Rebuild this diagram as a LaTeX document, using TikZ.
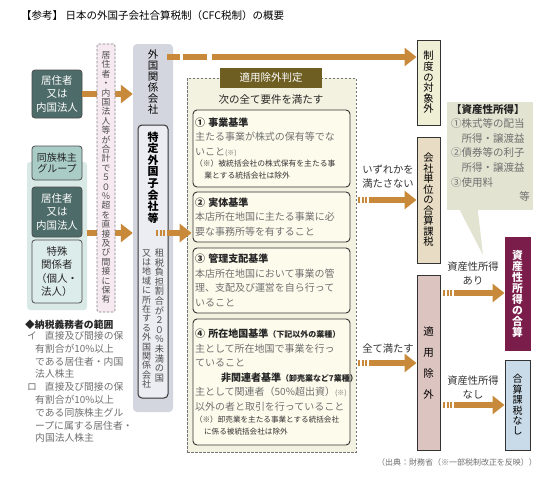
\documentclass[tikz,border=0pt]{standalone}
\usepackage{fontspec}
\setmainfont{Noto Sans CJK JP}
\usetikzlibrary{arrows.meta}

\definecolor{fatorange}{HTML}{C8893A}
\definecolor{tealdark}{HTML}{4D6B69}
\definecolor{tealpale}{HTML}{D8E9E6}
\definecolor{tealmid}{HTML}{A9CCC7}
\definecolor{teallight}{HTML}{DCECEA}
\definecolor{pinkpale}{HTML}{F6EAF0}
\definecolor{colgray}{HTML}{D3D6DE}
\definecolor{lavwhite}{HTML}{ECECF3}
\definecolor{creampale}{HTML}{F3F2E0}
\definecolor{olivedark}{HTML}{6E5E22}
\definecolor{critfill}{HTML}{FDFBEC}
\definecolor{outfill}{HTML}{EFEFD6}
\definecolor{tanfill}{HTML}{E9DCC4}
\definecolor{rosefill}{HTML}{DCC4C0}
\definecolor{plum}{HTML}{7A1D4B}
\definecolor{bluepale}{HTML}{C9DBE9}
\definecolor{notegray}{HTML}{E3E3D1}
\definecolor{txtgray}{HTML}{707070}

% vertical (tate) text: one character per line
\makeatletter
\def\tate#1{\tate@a#1\@nil}
\def\tate@a#1#2\@nil{#1\ifx\relax#2\relax\else\\\tate@a#2\@nil\fi}
\makeatother

\tikzset{
  fat/.style={draw=fatorange, line width=6pt, -{Triangle[width=18pt,length=12pt]}},
  stripes/.style={dash pattern=on 2pt off 1.5pt on 2pt off 1.5pt on 2pt off 2pt on 600pt},
  person/.style={draw=black!70, line width=0.8pt, fill=tealdark, text=white, rounded corners=3pt,
    minimum width=50pt, inner sep=0pt, align=center, font=\fontsize{10.5}{13.5}\selectfont},
  vtext/.style={inner sep=0pt, align=center},
  crit/.style={draw=black!80, line width=0.9pt, fill=critfill, rounded corners=4pt, text width=153pt,
    inner sep=2pt, align=left, text=txtgray, font=\fontsize{10}{14.5}\selectfont},
  resbox/.style={draw=black!80, line width=1pt, minimum width=23pt, inner sep=0pt, align=center},
  lbl/.style={inner sep=0pt, align=center, text=black!80, font=\fontsize{10.3}{14}\selectfont}
}

\begin{document}
\begin{tikzpicture}[x=1pt,y=-1pt]
  \useasboundingbox[fill=white] (0,0) rectangle (550,482);

  % title
  \node[anchor=west, inner sep=0pt, font=\fontsize{10.5}{12}\selectfont] (title) at (21,16)
    {【参考】\ 日本の外国子会社合算税制（CFC税制）の概要};

  % taxpayers on the left
  \node[fill=tealpale, rounded corners=3pt, minimum width=60pt, minimum height=148pt, inner sep=0pt] (grp) at (57,236) {};
  \node[person, minimum height=48pt] (res1) at (57,94) {居住者\\又は\\内国法人};
  \node[person, fill=tealmid, text=black!85, minimum height=34pt, font=\fontsize{10}{11.5}\selectfont] (dozoku) at (57,163) {同族株主\\グループ};
  \node[person, minimum height=50pt] (res2) at (57,212) {居住者\\又は\\内国法人};
  \node[person, fill=teallight, text=black!85, minimum height=63pt] (tokushu) at (57,271.5) {特殊\\関係者\\（個人・\\法人）};

  \node[anchor=west, inner sep=0pt, text=black!85, font=\bfseries\fontsize{9.8}{12}\selectfont] (hani) at (25,325) {◆納税義務者の範囲};
  \node[anchor=north west, inner sep=0pt, align=left, text=txtgray, font=\fontsize{9.8}{12.8}\selectfont] (hanitext) at (27,331)
    {イ\hspace{8pt}直接及び間接の保\\\hspace*{8pt}有割合が10\%以上\\\hspace*{8pt}である居住者・内国\\\hspace*{8pt}法人株主\\
     ロ\hspace{8pt}直接及び間接の保\\\hspace*{8pt}有割合が10\%以上\\\hspace*{8pt}である同族株主グル\\\hspace*{8pt}ープに属する居住者・\\\hspace*{8pt}内国法人株主};

  % foreign related company column
  \node[fill=colgray, rounded corners=4pt, minimum width=40pt, minimum height=368pt, inner sep=0pt] (col) at (153,228) {};
  \node[vtext, font=\fontsize{10.5}{11}\selectfont] (colname) at (153,82.5) {\tate{外国関係会社}};
  \node[draw=black!80, line width=1pt, fill=lavwhite, rounded corners=4pt, minimum width=30pt, minimum height=273pt, inner sep=0pt] (tokutei) at (153,261.5) {};
  \node[vtext, font=\bfseries\fontsize{11}{11.6}\selectfont] (tokname) at (153,177.5) {\tate{特定外国子会社等}};
  \node[vtext, text=black!70, font=\fontsize{9.2}{9.6}\selectfont] (tok1) at (159.5,315.5) {\tate{租税負担割合が２０％未満の国}};
  \node[vtext, text=black!70, font=\fontsize{9}{9.4}\selectfont] (tok2) at (146.7,319) {\tate{又は地域に所在する外国関係会社}};

  % arrows into the column (pass under the dashed box)
  \coordinate (a2) at (87,233);
  \draw[fat] (res1.east) -- (col.west |- res1.east);
  \draw[fat] (a2) -- (col.west |- a2);

  \node[draw=black!50, dash pattern=on 2.5pt off 1.5pt, line width=0.7pt, fill=pinkpale, rounded corners=2pt,
    minimum width=18pt, minimum height=268pt, inner sep=0pt] (own) at (106,178) {};
  \node[vtext, text=black!70, font=\fontsize{8.8}{9.4}\selectfont] (owntext) at (106,177.5) {\tate{居住者・内国法人等が合計で５０％超を直接及び間接に保有}};

  % exemption test
  \node[draw=black!55, dash pattern=on 2.5pt off 1.5pt, line width=0.8pt, fill=creampale, minimum width=169pt, minimum height=374pt, inner sep=0pt] (judge) at (271.5,265) {};
  \node[fill=olivedark, text=white, minimum width=102pt, minimum height=20pt, inner sep=0pt, font=\fontsize{10.5}{12}\selectfont] (jhead) at (271,78) {適用除外判定};
  \node[inner sep=0pt, text=black!85, font=\fontsize{10.5}{12}\selectfont] (jsub) at (271,100) {次の全て要件を満たす};

  \node[crit, minimum height=77pt] (c1) at (271.5,148.5)
    {{\color{black!85}\bfseries ① 事業基準}\\主たる事業が株式の保有等でな\\いこと{\fontsize{7}{8}\selectfont(※)}\par
     {\fontsize{7.8}{11.5}\selectfont\color{black!80}（※）被統括会社の株式保有を主たる事\\\hspace*{1.2em}業とする統括会社は除外\par}};
  \node[crit, minimum height=50pt] (c2) at (271.5,217)
    {{\color{black!85}\bfseries ② 実体基準}\\本店所在地国に主たる事業に必\\要な事務所等を有すること};
  \node[crit, minimum height=65pt] (c3) at (271.5,280.5)
    {{\color{black!85}\bfseries ③ 管理支配基準}\\本店所在地国において事業の管\\理、支配及び運営を自ら行って\\いること};
  \node[crit, minimum height=126pt] (c4) at (271.5,382)
    {{\color{black!85}\bfseries ④ 所在地国基準{\fontsize{8}{10}\selectfont（下記以外の業種）}}\\主として所在地国で事業を行っ\\ていること\\
     \hspace*{2.6em}{\color{black!85}\bfseries 非関連者基準{\fontsize{8}{10}\selectfont（卸売業など7業種）}}\\
     主として関連者（50\%超出資）{\fontsize{7}{8}\selectfont(※)}\\以外の者と取引を行っていること\par
     {\fontsize{7.6}{12}\selectfont\color{black!80}（※）卸売業を主たる事業とする統括会社\\\hspace*{1.2em}に係る被統括会社は除外\par}};

  \coordinate (a3) at (156,233);
  \draw[fat, stripes, shorten >=-5pt] (a3) -- (judge.west |- a3);

  % outcomes
  \node[resbox, fill=outfill, minimum height=85pt, font=\fontsize{10.4}{10.6}\selectfont] (taisho) at (428.5,82.5) {\tate{制度の対象外}};
  \node[resbox, fill=tanfill, minimum height=126pt, font=\fontsize{10.3}{10.5}\selectfont] (gassan) at (428.5,200) {\tate{会社単位の合算課税}};
  \node[resbox, fill=rosefill, minimum height=175pt, font=\fontsize{10.5}{21}\selectfont] (tekiyo) at (428.5,362.5) {\tate{適用除外}};
  \node[resbox, draw=plum, fill=plum, text=white, minimum width=25pt, minimum height=113pt, font=\bfseries\fontsize{10.8}{11}\selectfont] (shisan) at (517.5,293.5) {\tate{資産性所得の合算}};
  \node[resbox, fill=bluepale, minimum width=25pt, minimum height=90pt, font=\fontsize{10}{10.4}\selectfont] (nashi) at (517.5,405) {\tate{合算課税なし}};

  \coordinate (a0) at (167,57);
  \draw[fat, dash pattern=on 13pt off 3pt on 24pt off 5pt on 600pt] (a0) -- (taisho.west |- a0);
  \coordinate (a4) at (358,200);
  \draw[fat, stripes] (a4) -- (gassan.west |- a4);
  \coordinate (a5) at (358,363);
  \draw[fat, stripes] (a5) -- (tekiyo.west |- a5);
  \coordinate (a6) at (443,293);
  \draw[fat, stripes] (a6) -- (shisan.west |- a6);
  \coordinate (a7) at (443,405);
  \draw[fat, stripes] (a7) -- (nashi.west |- a7);

  \node[lbl] (l1) at (388,177) {いずれかを\\満たさない};
  \node[lbl] (l2) at (388,349) {全て満たす};
  \node[lbl] (l3) at (473,273) {資産性所得\\あり};
  \node[lbl] (l4) at (473,387) {資産性所得\\なし};

  % asset income callout
  \node[fill=notegray, minimum width=86pt, minimum height=108pt, inner sep=0pt] (asset) at (490,156) {};
  \fill[notegray] ([xshift=13pt]asset.south west) -- (483,255) -- ([xshift=31pt]asset.south west) -- cycle;
  \node[anchor=north west, inner sep=0pt, align=left, text=txtgray, font=\fontsize{10.5}{14.6}\selectfont] (assettext) at (451,104)
    {{\color{black!85}\bfseries【資産性所得】}\\①株式等の配当\\\hspace*{1em}所得・譲渡益\\②債券等の利子\\\hspace*{1em}所得・譲渡益\\③使用料\\\hspace*{6.5em}等};

  \node[inner sep=0pt, text=txtgray, font=\fontsize{8}{10}\selectfont] (src) at (457,462) {（出典：財務省（※一部税制改正を反映））};
\end{tikzpicture}
\end{document}
